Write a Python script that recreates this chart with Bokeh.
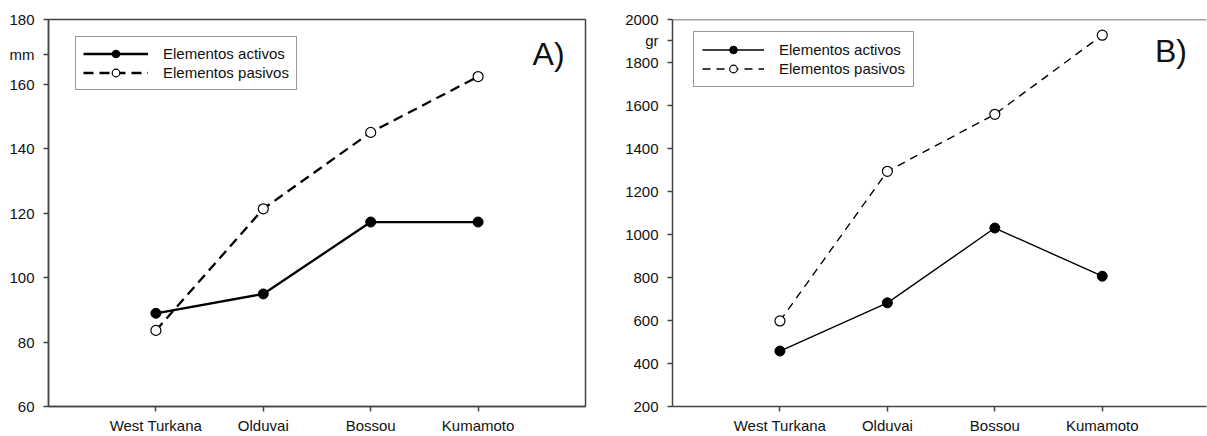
from bokeh.plotting import figure
from bokeh.models import Range1d, FixedTicker, Legend, LegendItem, Label, Span
from bokeh.layouts import row
from bokeh.embed import file_html
from bokeh.resources import INLINE

categories = ["West Turkana", "Olduvai", "Bossou", "Kumamoto"]
a_activos = [88.9, 94.9, 117.2, 117.2]
a_pasivos = [83.6, 121.3, 145.0, 162.3]
b_activos = [458, 682, 1030, 806]
b_pasivos = [598, 1294, 1559, 1927]
a_yticks = [60, 80, 100, 120, 140, 160, 180]
b_yticks = [200, 400, 600, 800, 1000, 1200, 1400, 1600, 1800, 2000]
series_labels = ["Elementos activos", "Elementos pasivos"]

FONT = "Liberation Sans"
AX = "#444444"
TXT = "#111111"


def make_panel(act, pas, yticks, xend, width, bl, br, lw, dash, unit, unit_y,
               tag, tag_x, tag_y, loc, glyph_w, pad, outline):
    xs = list(range(1, len(categories) + 1))
    p = figure(width=width, height=436, x_range=Range1d(0, xend),
               y_range=Range1d(yticks[0], yticks[-1]),
               output_backend="svg", toolbar_location=None,
               min_border_left=bl, min_border_right=br,
               min_border_top=19, min_border_bottom=30)
    p.grid.visible = False
    p.background_fill_color = "white"
    p.border_fill_color = "white"
    if outline:
        p.outline_line_color = AX
        p.outline_line_width = 1.5
    else:
        p.outline_line_color = None
        p.add_layout(Span(location=yticks[-1], dimension="width",
                          line_color=AX, line_width=1.5))

    p.xaxis.ticker = FixedTicker(ticks=xs, minor_ticks=[])
    p.xaxis.major_label_overrides = {x: c for x, c in zip(xs, categories)}
    # unit text sits among the y tick labels
    p.yaxis.ticker = FixedTicker(ticks=yticks + [unit_y], minor_ticks=[])
    p.yaxis.major_label_overrides = {unit_y: unit}
    for ax in (p.xaxis, p.yaxis):
        ax.axis_line_color = AX
        ax.axis_line_width = 1.5
        ax.major_tick_line_color = AX
        ax.major_tick_line_width = 1.5
        ax.major_tick_in = 0
        ax.major_tick_out = 5
        ax.minor_tick_line_color = None
        ax.major_label_text_font = FONT
        ax.major_label_text_font_size = "15px"
        ax.major_label_text_color = TXT
    p.xaxis.major_label_standoff = 5
    p.yaxis.major_label_standoff = 9

    r1 = p.line(xs, act, line_color="black", line_width=lw)
    s1 = p.scatter(xs, act, size=10, fill_color="black", line_color="black")
    r2 = p.line(xs, pas, line_color="black", line_width=lw, line_dash=dash)
    s2 = p.scatter(xs, pas, size=10, fill_color="white", line_color="black",
                   line_width=1.2)

    legend = Legend(items=[LegendItem(label=series_labels[0], renderers=[r1, s1]),
                           LegendItem(label=series_labels[1], renderers=[r2, s2])],
                    location=loc, glyph_width=glyph_w, glyph_height=19,
                    label_height=19, label_standoff=15, padding=pad, spacing=0,
                    margin=0, border_line_color="#333333", border_line_width=1.2,
                    label_text_font=FONT, label_text_font_size="15px",
                    label_text_color=TXT, background_fill_alpha=1.0)
    p.add_layout(legend)

    p.add_layout(Label(x=tag_x, y=tag_y, text=tag, text_align="left",
                       text_baseline="middle", text_font=FONT,
                       text_font_size="32px", text_color=TXT))
    return p


pa = make_panel(a_activos, a_pasivos, a_yticks, 5.0, 600, 48, 15, 2.3, "10 6",
                "mm", 169.1, "A)", 4.507, 169.2, (27, 316), 65, 7, True)
pb = make_panel(b_activos, b_pasivos, b_yticks, 4.97, 607, 72, 1, 1.4, "8 6",
                "gr", 1902, "B)", 4.49, 1854.0, (21, 319), 62, 8, False)

layout = row(pa, pb, spacing=0)
open("out.html", "w").write(file_html(layout, INLINE))
